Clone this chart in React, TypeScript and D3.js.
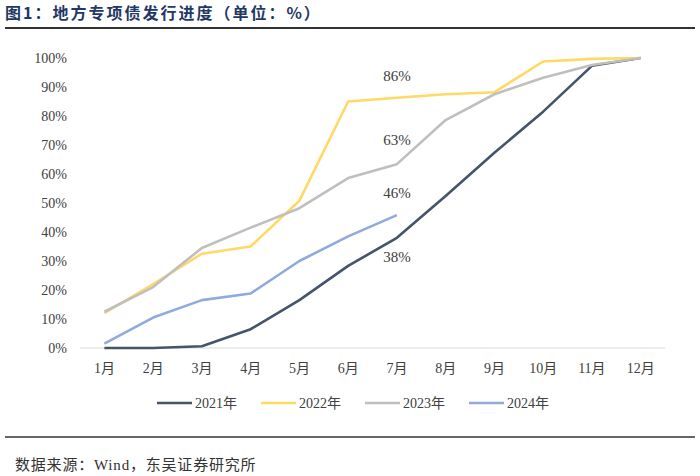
import React from "react";
import * as d3 from "d3";

const months = ["1月", "2月", "3月", "4月", "5月", "6月", "7月", "8月", "9月", "10月", "11月", "12月"];
const s2021 = [0, 0, 0.6, 6.5, 16.5, 28.3, 38, 52.4, 67.3, 81.5, 97.3, 100];
const s2022 = [12, 22, 32.5, 35, 50.8, 85, 86.3, 87.5, 88.2, 98.8, 99.7, 100];
const s2023 = [12.5, 21, 34.5, 41.5, 48.2, 58.6, 63.4, 78.6, 87.5, 93.2, 97.6, 100];
const s2024 = [1.5, 10.5, 16.5, 18.8, 30, 38.5, 45.8];
const seriesNames = ["2021年", "2022年", "2023年", "2024年"];
const seriesColors = ["#44546a", "#ffd966", "#bfbfbf", "#8faadc"];
const yTicks = [0, 10, 20, 30, 40, 50, 60, 70, 80, 90, 100];
const annotations = [
  { text: "86%", month: "7月", value: 86.3, dy: -17 },
  { text: "63%", month: "7月", value: 63.4, dy: -19 },
  { text: "46%", month: "7月", value: 45.8, dy: -17 },
  { text: "38%", month: "7月", value: 38, dy: 24 },
];

export default function App() {
  const W = 700, H = 476;
  const left = 80, right = 665, top = 58, bottom = 348;
  const x = d3.scaleBand<string>().domain(months).range([left, right]);
  const xc = (m: string) => (x(m) as number) + x.bandwidth() / 2;
  const y = d3.scaleLinear().domain([0, 100]).range([bottom, top]);
  const all = [s2021, s2022, s2023, s2024];
  const line = d3
    .line<number>()
    .x((_, i) => xc(months[i]))
    .y((d) => y(d));
  const serif = "'Liberation Serif', 'Times New Roman', serif";
  const cjk = "'Liberation Serif', 'Noto Sans CJK SC', serif";
  const legendX = [157, 261, 365, 469];
  return (
    <svg width={W} height={H} style={{ position: "absolute", left: 0, top: 0, background: "#fff" }}>
      <text x={5} y={19} fontSize={16} fontWeight="bold" letterSpacing={2} fill="#1f3864" fontFamily="'Noto Sans CJK SC', serif">
        图1：地方专项债发行进度（单位：%）
      </text>
      <line x1={5} x2={695} y1={28} y2={28} stroke="#333" strokeWidth={2} />
      {yTicks.map((t) => (
        <text key={t} x={67} y={y(t) + 5} textAnchor="end" fontSize={14} fill="#404040" fontFamily={serif}>
          {t}%
        </text>
      ))}
      <line x1={left} x2={right} y1={bottom} y2={bottom} stroke="#d9d9d9" strokeWidth={1} />
      {months.map((m) => (
        <text key={m} x={xc(m)} y={373} textAnchor="middle" fontSize={14} fill="#404040" fontFamily={cjk}>
          {m}
        </text>
      ))}
      {all.map((s, i) => (
        <path key={i} d={line(s) || ""} fill="none" stroke={seriesColors[i]} strokeWidth={2.6} strokeLinejoin="round" />
      ))}
      {annotations.map((a, i) => (
        <text key={i} x={xc(a.month)} y={y(a.value) + a.dy} textAnchor="middle" fontSize={15} fill="#404040" fontFamily={serif}>
          {a.text}
        </text>
      ))}
      {seriesNames.map((n, i) => (
        <g key={n}>
          <line x1={legendX[i]} x2={legendX[i] + 35} y1={403} y2={403} stroke={seriesColors[i]} strokeWidth={2.6} />
          <text x={legendX[i] + 38} y={408} fontSize={14} fill="#404040" fontFamily={cjk}>
            {n}
          </text>
        </g>
      ))}
      <line x1={5} x2={695} y1={437} y2={437} stroke="#333" strokeWidth={1.5} />
      <text x={15} y={470} fontSize={15} letterSpacing={0.8} fill="#333" fontFamily={cjk}>
        数据来源：Wind，东吴证券研究所
      </text>
    </svg>
  );
}
